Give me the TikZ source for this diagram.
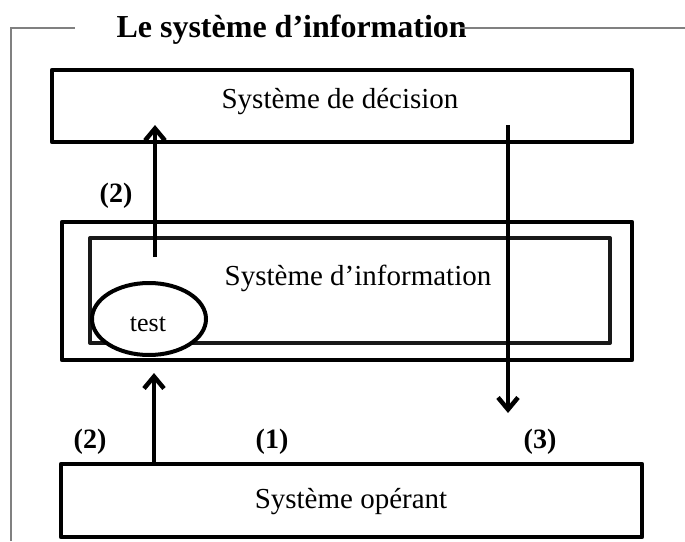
\documentclass[tikz,border=0pt]{standalone}
\usepackage{fontspec}
\setmainfont{Liberation Serif}
\usetikzlibrary{arrows.meta,shapes.geometric}

\tikzset{
  sysbox/.style={draw=black, line width=4.5pt, rectangle, inner sep=0pt, line join=round},
  infobox/.style={draw=black!90, line width=4pt, rectangle, inner sep=0pt, line join=round},
  testoval/.style={draw=black, line width=4pt, ellipse, inner sep=0pt, fill=white,
                   font=\fontsize{26}{30}\selectfont},
  boxtext/.style={anchor=base, font=\fontsize{29}{34}\selectfont},
  steplabel/.style={anchor=base, font=\bfseries\fontsize{28}{32}\selectfont},
  titletext/.style={anchor=base west, font=\bfseries\fontsize{32}{36}\selectfont},
  frameline/.style={draw=black!50, line width=1.5pt},
  flow/.style={line width=4.5pt, -{Straight Barb[length=12pt,width=20pt]}}
}

\begin{document}
\begin{tikzpicture}[x=1pt,y=-1pt]
  \useasboundingbox (0,0) rectangle (685,541);
  \fill[white] (0,0) rectangle (685,541);

  % outer frame with its title
  \node[titletext] (title) at (113,37) {Le système d’information};
  \coordinate (fl) at (11,28);
  \coordinate (fb) at (11,541);
  \coordinate (fr) at (685,28);
  \draw[frameline] (fb) -- (fl) -- (75,28);
  \draw[frameline] (460,28) -- (fr);

  % decision system
  \node[sysbox, minimum width=580pt, minimum height=72pt] (dec) at (342,106) {};
  \node[boxtext] (dectext) at (340,108) {Système de décision};

  % information system: double frame
  \node[sysbox, minimum width=570pt, minimum height=138pt] (infout) at (347,291) {};
  \node[infobox, minimum width=520pt, minimum height=105pt] (infin) at (350,290.5) {};
  \node[boxtext] (inftext) at (358,285) {Système d’information};

  % test oval
  \node[testoval, minimum width=114pt, minimum height=72pt] (test) at (149,319) {};
  \node[anchor=base, font=\fontsize{26}{30}\selectfont] (testtext) at (148,331) {test};

  % operating system
  \node[sysbox, minimum width=581pt, minimum height=73pt] (op) at (351.5,500.5) {};
  \node[boxtext] (optext) at (351,508) {Système opérant};

  % flows
  \coordinate (upS) at (155,257);
  \coordinate (upE) at (155,125);
  \draw[flow] (upS) -- (upE);

  \coordinate (loE) at (154,373);
  \draw[flow] (op.north -| loE) -- (loE);

  \coordinate (dnS) at (508,125);
  \coordinate (dnE) at (508,413);
  \draw[flow] (dnS) -- (dnE);

  % step labels
  \node[steplabel] (l2a) at (116,202) {(2)};
  \node[steplabel] (l2b) at (90,448) {(2)};
  \node[steplabel] (l1) at (272,448) {(1)};
  \node[steplabel] (l3) at (540,448) {(3)};
\end{tikzpicture}
\end{document}
